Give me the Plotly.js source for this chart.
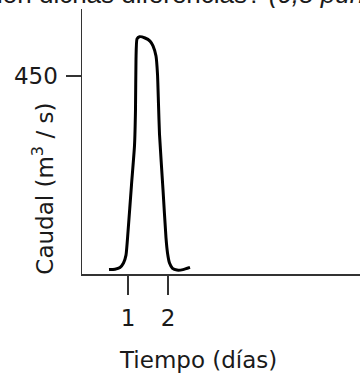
<!DOCTYPE html>
<html>
<head>
<meta charset="utf-8">
<script src="https://cdn.plot.ly/plotly-3.0.1.min.js"></script>
<style>html,body{margin:0;padding:0;background:#fff;}#chart{width:360px;height:374px;}</style>
</head>
<body>
<div id="chart"></div>
<script>
// Hydrograph
const dias = [0.525, 0.675, 0.8, 0.8875, 0.95, 1.0, 1.0875, 1.1625, 1.1875, 1.2, 1.225, 1.2875, 1.425, 1.55, 1.625, 1.7, 1.7375, 1.7625, 1.7875, 1.875, 1.95, 1.9875, 2.0375, 2.1125, 2.225, 2.375, 2.55];
const caudal = [10, 11, 15, 25, 43, 96, 203, 292, 375, 489, 535, 540, 537, 530, 519, 496, 455, 386, 318, 192, 82, 48, 25, 13, 9, 10, 15];
const xTicks = [1, 2];
const xTickText = ['1', '2'];
const yTicks = [450];
const yTickText = ['450'];

const font = {family: 'DejaVu Sans, Verdana, sans-serif', size: 23, color: '#1a1a1a'};

const data = [{
  x: dias, y: caudal, type: 'scatter', mode: 'lines',
  line: {color: '#000', width: 3, shape: 'spline', smoothing: 0.5},
  hoverinfo: 'skip'
}];

const layout = {
  width: 360, height: 374,
  margin: {l: 82, r: 0, t: 9, b: 100, pad: 0},
  paper_bgcolor: '#fff', plot_bgcolor: '#fff',
  showlegend: false,
  font: font,
  xaxis: {
    range: [-0.15, 6.8], showgrid: false, zeroline: false,
    showline: true, linecolor: '#333', linewidth: 1.5,
    ticks: 'outside', ticklen: 19, tickwidth: 1.5, tickcolor: '#333',
    tickvals: xTicks, ticktext: xTickText, tickfont: font,
    ticklabelstandoff: 4,
    fixedrange: true
  },
  yaxis: {
    range: [0, 603], showgrid: false, zeroline: false,
    showline: true, linecolor: '#333', linewidth: 1.5,
    ticks: 'outside', ticklen: 15, tickwidth: 1.5, tickcolor: '#333',
    tickvals: yTicks, ticktext: yTickText, tickfont: font,
    ticklabelstandoff: 3,
    fixedrange: true
  },
  annotations: [
    {text: 'Tiempo (días)', xref: 'paper', yref: 'paper', x: (198 - 82) / 278, y: -(360 - 274) / 264,
     xanchor: 'center', yanchor: 'middle', showarrow: false, font: font},
    {text: 'Caudal (m<sup>3</sup> / s)', xref: 'paper', yref: 'paper', x: (43 - 82) / 278, y: (274 - 189) / 264,
     xanchor: 'center', yanchor: 'middle', textangle: -90, showarrow: false, font: font},
    {text: 'ción dichas diferencias? <i>(0,5 puntos)</i>', xref: 'paper', yref: 'paper',
     x: (-18 - 82) / 278, y: (274 - 12) / 264, xanchor: 'left', yanchor: 'bottom', showarrow: false,
     font: {family: 'Liberation Sans, Arial, sans-serif', size: 26, color: '#1a1a1a'}}
  ]
};

Plotly.newPlot('chart', data, layout, {displayModeBar: false, staticPlot: true});
</script>
</body>
</html>
